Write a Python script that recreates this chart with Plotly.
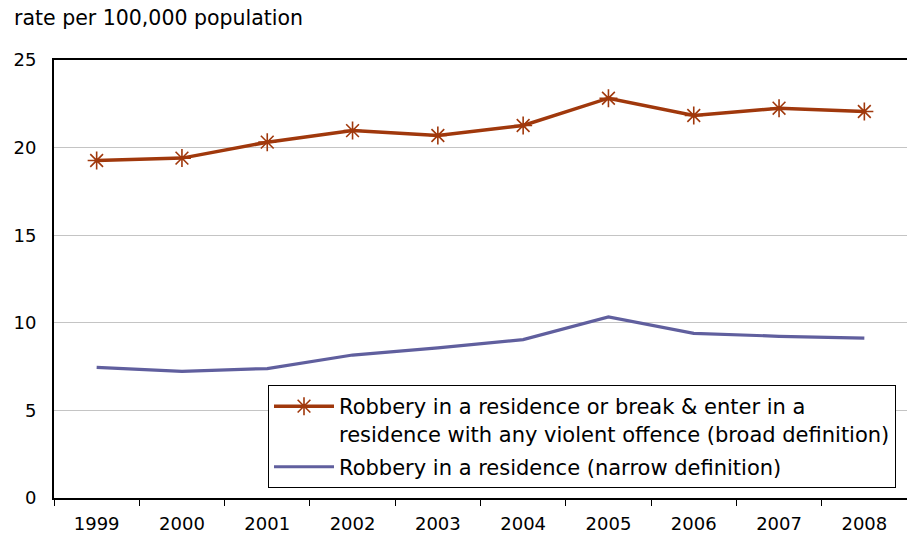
import plotly.graph_objects as go

years = ["1999", "2000", "2001", "2002", "2003", "2004", "2005", "2006", "2007", "2008"]
broad = [19.26, 19.40, 20.31, 20.97, 20.69, 21.26, 22.82, 21.83, 22.25, 22.06]
narrow = [7.46, 7.23, 7.39, 8.16, 8.57, 9.04, 10.34, 9.40, 9.23, 9.12]

broad_name = "Robbery in a residence or break & enter in a<br>residence with any violent offence (broad definition)"
narrow_name = "Robbery in a residence (narrow definition)"
y_title = "rate per 100,000 population"

FONT = "DejaVu Sans"
BROAD_C = "#A0380C"
NARROW_C = "#605F9E"

fig = go.Figure()
fig.add_trace(go.Scatter(
    x=years, y=broad, name=broad_name, mode="lines+markers",
    line=dict(color=BROAD_C, width=3.5),
    marker=dict(symbol="asterisk-open", size=15, color=BROAD_C, line=dict(color=BROAD_C, width=1.6)),
    legendgroup="a",
))
fig.add_trace(go.Scatter(
    x=years, y=narrow, name=narrow_name, mode="lines",
    line=dict(color=NARROW_C, width=3.2),
    legendgroup="b",
))

fig.update_layout(
    width=907, height=539,
    margin=dict(l=54, r=0, t=60, b=41, autoexpand=False),
    paper_bgcolor="white", plot_bgcolor="white",
    font=dict(family=FONT, size=18, color="#000000"),
    showlegend=True,
    legend=dict(
        x=(268 - 54) / 853, y=(539 - 41 - 385) / 438, xanchor="left", yanchor="top",
        bordercolor="#000000", borderwidth=1, bgcolor="white",
        font=dict(family=FONT, size=21, color="#000000"),
        valign="top", tracegroupgap=3, traceorder="grouped",
        itemwidth=60,
    ),
    xaxis=dict(
        type="category", range=[-0.5, len(years) - 0.5],
        showline=True, linecolor="#000000", linewidth=2, mirror=True,
        ticks="outside", tickson="boundaries", ticklen=6, tickcolor="#000000",
        showgrid=False, tickfont=dict(family=FONT, size=18), automargin=False,
        ticklabelstandoff=8,
    ),
    yaxis=dict(
        range=[0, 25], tickvals=[0, 5, 10, 15, 20, 25],
        showline=True, linecolor="#000000", linewidth=2,
        showgrid=True, gridcolor="#C4C4C4", gridwidth=1, zeroline=False,
        ticks="", ticklabelstandoff=12, tickfont=dict(family=FONT, size=18),
        automargin=False,
    ),
    annotations=[dict(
        text=y_title, xref="paper", yref="paper", x=-54 / 853, y=1 + 42 / 438,
        xanchor="left", yanchor="middle", showarrow=False, xshift=12,
        font=dict(family=FONT, size=20.5, color="#000000"),
    )],
)

fig.write_html(
    "out.html",
    config={"displayModeBar": False},
    post_script="document.body.style.margin='0';document.body.style.overflow='hidden';",
)
